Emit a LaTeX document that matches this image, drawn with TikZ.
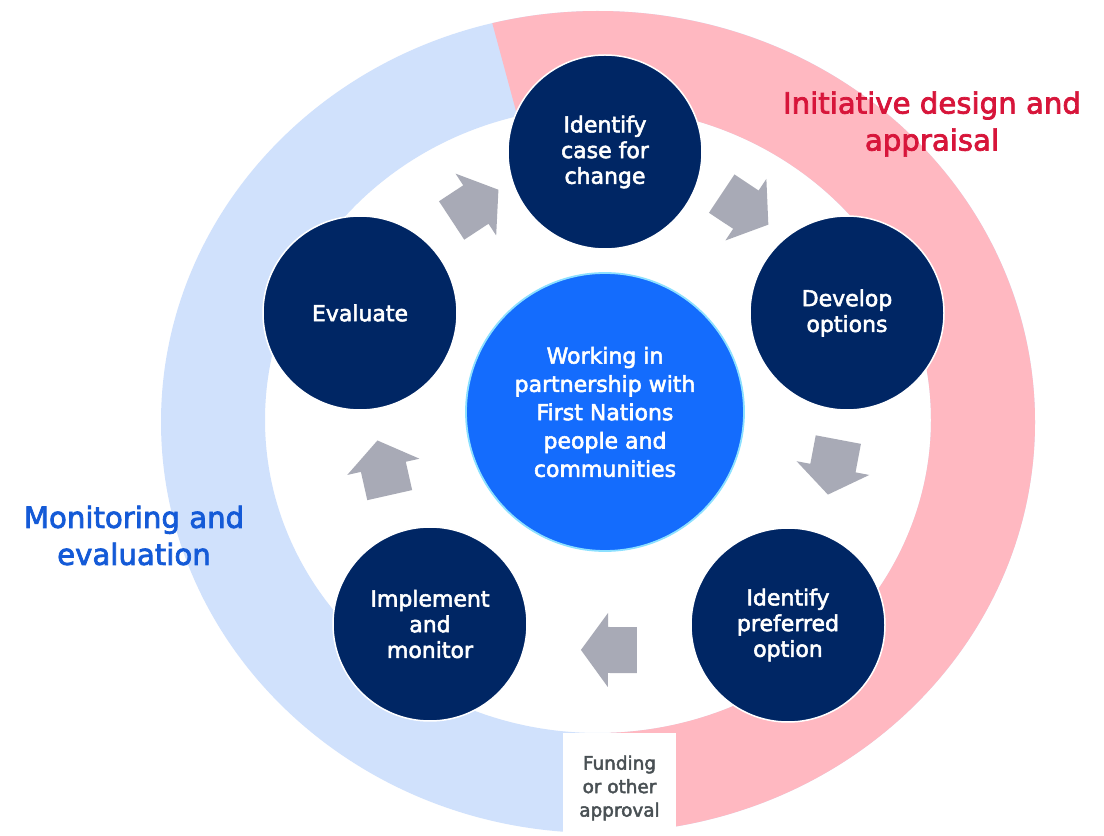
\documentclass[tikz,border=0pt]{standalone}
\usepackage{fontspec}
\setmainfont{DejaVu Sans}
\newfontfamily\medfont{DejaVu Sans}[FakeBold=2.5]
\usetikzlibrary{calc}

\definecolor{navy}{HTML}{002664}
\definecolor{hubblue}{HTML}{146CFD}
\definecolor{hubedge}{HTML}{8CE0FF}
\definecolor{ringblue}{RGB}{208,225,252}
\definecolor{ringpink}{HTML}{FFB8C1}
\definecolor{designred}{HTML}{D7153A}
\definecolor{monitorblue}{RGB}{20,90,215}
\definecolor{flowgrey}{RGB}{168,170,182}
\definecolor{notegrey}{HTML}{495054}

\tikzset{
  flowarrow/.pic={\fill[flowgrey] (-28,-23) -- (1,-23) -- (1,-37) -- (28,0) -- (1,37) -- (1,23) -- (-28,23) -- cycle;}
}

% block arrow from stage #1 to stage #2, at #3 of the way, pushed outwards by #4
\newcommand{\flowstep}[4]{%
  \path let \p1=($(#2)-(#1)$), \n1={atan2(\y1,\x1)} in
    ($(#1)!#3!(#2)!#4!90:(#2)$) pic[rotate=\n1] {flowarrow};}

\begin{document}
\begin{tikzpicture}[x=0.5pt, y=0.5pt,
    stage/.style={circle, fill=navy, draw=white, line width=0.75pt, minimum size=97pt, inner sep=0pt,
      text=white, align=center, font=\medfont\fontsize{11}{12.85}\selectfont},
    hub/.style={circle, fill=hubblue, draw=hubedge, line width=0.9pt, minimum size=139pt, inner sep=0pt,
      text=white, align=center, font=\medfont\fontsize{11}{14.15}\selectfont},
    phase/.style={align=center, font=\medfont\fontsize{14.6}{18.5}\selectfont}]
  \fill[white] (0,0) rectangle (1104,836);
  \useasboundingbox (0,0) rectangle (1104,836);

  % outer ring
  \fill[ringblue, even odd rule] (598,414) ellipse [x radius=437, y radius=411]
    (598,416) ellipse [x radius=333, y radius=313];
  \fill[ringpink] ([shift={(598,414)}]-88:437 and 411) arc[start angle=-88, end angle=104, x radius=437, y radius=411]
    -- ([shift={(598,416)}]104:333 and 313) arc[start angle=104, end angle=-88, x radius=333, y radius=313] -- cycle;
  \fill[white] (563,0) rectangle (676,103);
  \node[text=notegrey, align=center, font=\medfont\fontsize{9.2}{11.75}\selectfont] (approval) at (619.5,48)
    {Funding\\or other\\approval};

  \node[phase, text=designred] (design) at (932,712) {Initiative design and\\appraisal};
  \node[phase, text=monitorblue] (monitoring) at (134,300.5) {Monitoring and\\evaluation};

  % cycle
  \node[stage] (case) at (605,684) {Identify\\case for\\change};
  \node[stage] (develop) at (847,523) {Develop\\options};
  \node[stage] (preferred) at (788,211) {Identify\\preferred\\option};
  \node[stage] (implement) at (430,212) {Implement\\and\\monitor};
  \node[stage] (evaluate) at (360,523) {Evaluate};
  \node[hub] (partner) at (605,424) {Working in\\partnership with\\First Nations\\people and\\communities};

  \flowstep{evaluate}{case}{0.53}{13.5pt}
  \flowstep{case}{develop}{0.51}{15pt}
  \flowstep{develop}{preferred}{0.485}{7.5pt}
  \flowstep{preferred}{implement}{0.5}{12.75pt}
  \flowstep{implement}{evaluate}{0.51}{5.5pt}
\end{tikzpicture}
\end{document}
